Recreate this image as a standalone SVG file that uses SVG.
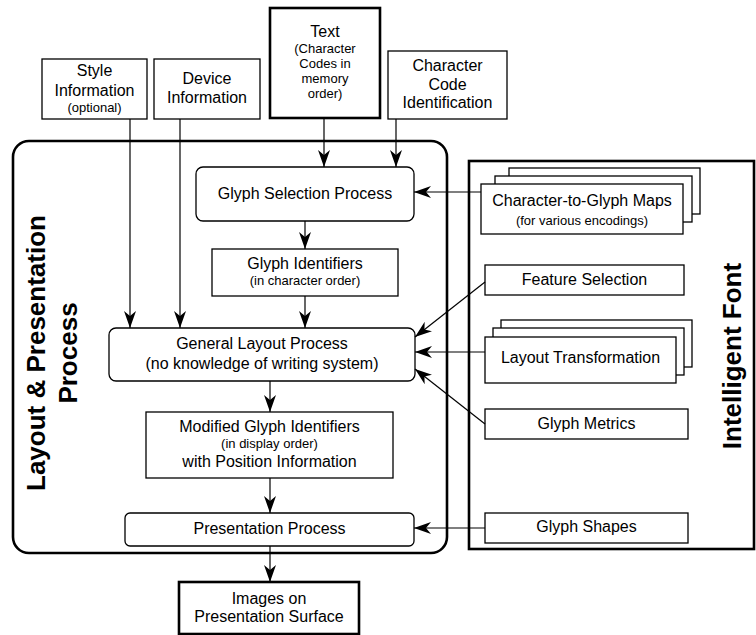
<svg xmlns="http://www.w3.org/2000/svg" width="756" height="635" viewBox="0 0 756 635">
<defs>
<marker id="arr" markerUnits="userSpaceOnUse" viewBox="0 0 17 12" refX="17" refY="6" markerWidth="17" markerHeight="12" orient="auto">
<path d="M0,0 L17,6 L0,12 L5,6 z" fill="#000"/>
</marker>
<style>
.b{fill:#fff;stroke:#000;stroke-width:1.3}
.tb{fill:#fff;stroke:#000;stroke-width:2.6}
.c{fill:none;stroke:#000;stroke-width:2.6}
.t{font-family:"Liberation Sans",Arial,sans-serif;font-size:16px;fill:#000;text-anchor:middle}
.s{font-size:13px}
.big{font-family:"Liberation Sans",Arial,sans-serif;font-size:26px;font-weight:bold;fill:#000;text-anchor:middle}
.l{fill:none;stroke:#000;stroke-width:1.2;marker-end:url(#arr)}
</style>
</defs>
<rect width="756" height="635" fill="#fff"/>

<g id="layout-container">
<rect class="c" x="13" y="141" width="434" height="412" rx="16"/>
<text class="big" transform="translate(45,353) rotate(-90)">Layout &amp; Presentation</text>
<text class="big" transform="translate(77,353) rotate(-90)">Process</text>
</g>
<g id="font-container">
<rect class="c" x="469" y="161" width="285" height="388"/>
<text class="big" transform="translate(741,356) rotate(-90)">Intelligent Font</text>
</g>

<g id="style-info">
<rect class="b" x="42" y="59" width="105" height="60"/>
<text class="t" x="94.5" y="76">Style</text>
<text class="t" x="94.5" y="96">Information</text>
<text class="t s" x="94.5" y="112">(optional)</text>
</g>
<g id="device-info">
<rect class="b" x="154" y="59" width="106" height="60"/>
<text class="t" x="207" y="84">Device</text>
<text class="t" x="207" y="103">Information</text>
</g>
<g id="text">
<rect class="tb" x="270" y="8" width="110" height="110"/>
<text class="t" x="325" y="37">Text</text>
<text class="t s" x="325" y="53">(Character</text>
<text class="t s" x="325" y="68">Codes in</text>
<text class="t s" x="325" y="83">memory</text>
<text class="t s" x="325" y="98">order)</text>
</g>
<g id="char-code-id">
<rect class="b" x="388" y="51" width="119" height="68"/>
<text class="t" x="447.5" y="71">Character</text>
<text class="t" x="447.5" y="90">Code</text>
<text class="t" x="447.5" y="108">Identification</text>
</g>

<g id="glyph-selection">
<rect class="b" x="196" y="167" width="218" height="54" rx="7"/>
<text class="t" x="305" y="199">Glyph Selection Process</text>
</g>
<g id="glyph-ids">
<rect class="b" x="212" y="249" width="186" height="47"/>
<text class="t" x="305" y="269">Glyph Identifiers</text>
<text class="t s" x="305" y="285">(in character order)</text>
</g>
<g id="general-layout">
<rect class="b" x="109" y="328" width="306" height="53" rx="7"/>
<text class="t" x="262" y="349">General Layout Process</text>
<text class="t" x="262" y="369">(no knowledge of writing system)</text>
</g>
<g id="modified-ids">
<rect class="b" x="146" y="412" width="247" height="66"/>
<text class="t" x="269.5" y="432">Modified Glyph Identifiers</text>
<text class="t s" x="269.5" y="448">(in display order)</text>
<text class="t" x="269.5" y="467">with Position Information</text>
</g>
<g id="presentation">
<rect class="b" x="125" y="513" width="289" height="33" rx="5"/>
<text class="t" x="269.5" y="534">Presentation Process</text>
</g>
<g id="images">
<rect class="tb" x="179" y="582" width="180" height="52"/>
<text class="t" x="269" y="604">Images on</text>
<text class="t" x="269" y="622">Presentation Surface</text>
</g>

<g id="cmaps">
<rect class="b" x="509" y="168" width="191" height="46"/>
<rect class="b" x="495" y="176" width="197" height="46"/>
<rect class="b" x="481" y="184" width="202" height="50"/>
<text class="t" x="582" y="206">Character-to-Glyph Maps</text>
<text class="t s" x="582" y="225">(for various encodings)</text>
</g>
<g id="feature-selection">
<rect class="b" x="485" y="265" width="199" height="30"/>
<text class="t" x="584.5" y="285">Feature Selection</text>
</g>
<g id="layout-transformation">
<rect class="b" x="501" y="320" width="191" height="47"/>
<rect class="b" x="493" y="328" width="191" height="47"/>
<rect class="b" x="485" y="337" width="191" height="46"/>
<text class="t" x="580.5" y="363">Layout Transformation</text>
</g>
<g id="glyph-metrics">
<rect class="b" x="485" y="409" width="203" height="30"/>
<text class="t" x="586.5" y="429">Glyph Metrics</text>
</g>
<g id="glyph-shapes">
<rect class="b" x="485" y="513" width="203" height="30"/>
<text class="t" x="586.5" y="532">Glyph Shapes</text>
</g>

<g id="connectors">
<line class="l" x1="130" y1="119" x2="130" y2="328"/>
<line class="l" x1="180" y1="119" x2="180" y2="328"/>
<line class="l" x1="324" y1="118" x2="324" y2="167"/>
<line class="l" x1="396" y1="119" x2="396" y2="167"/>
<line class="l" x1="305" y1="221" x2="305" y2="249"/>
<line class="l" x1="305" y1="296" x2="305" y2="328"/>
<line class="l" x1="481" y1="192" x2="414" y2="192"/>
<line class="l" x1="485" y1="282" x2="415" y2="337"/>
<line class="l" x1="485" y1="352" x2="415" y2="352"/>
<line class="l" x1="485" y1="424" x2="415" y2="369"/>
<line class="l" x1="485" y1="528" x2="414" y2="528"/>
<line class="l" x1="270" y1="381" x2="270" y2="412"/>
<line class="l" x1="270" y1="478" x2="270" y2="513"/>
<line class="l" x1="270" y1="546" x2="270" y2="582"/>
</g>
</svg>
